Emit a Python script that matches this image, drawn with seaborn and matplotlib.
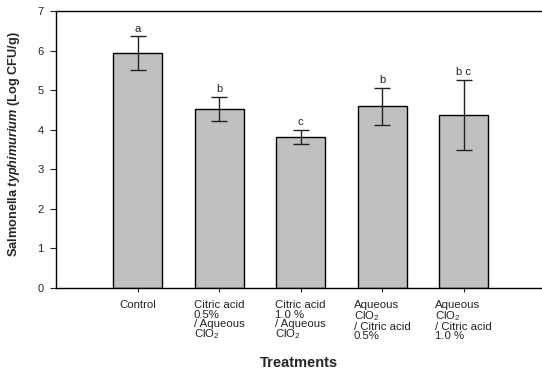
import matplotlib
matplotlib.use("Agg")
import matplotlib.pyplot as plt
import seaborn as sns
import numpy as np
import pandas as pd

# Treatment groups and Salmonella counts (log CFU/g)
treatments = [
    "Control",
    "Citric acid\n0.5%\n/ Aqueous\nClO$_2$",
    "Citric acid\n1.0 %\n/ Aqueous\nClO$_2$",
    "Aqueous\nClO$_2$\n/ Citric acid\n0.5%",
    "Aqueous\nClO$_2$\n/ Citric acid\n1.0 %",
]
means = [5.94, 4.52, 3.82, 4.59, 4.38]
errors = [0.42, 0.31, 0.18, 0.47, 0.88]
letters = ["a", "b", "c", "b", "b c"]
yticks = [0, 1, 2, 3, 4, 5, 6, 7]

sns.set_style("white")
plt.rcParams["font.family"] = ["Liberation Sans", "DejaVu Sans"]
plt.rcParams["mathtext.fontset"] = "custom"
plt.rcParams["mathtext.rm"] = "Liberation Sans"
plt.rcParams["mathtext.it"] = "Liberation Sans:italic:bold"
plt.rcParams["mathtext.bf"] = "Liberation Sans:bold"

df = pd.DataFrame({"treatment": [f"t{i}" for i in range(len(treatments))], "mean": means})

fig = plt.figure(figsize=(5.42, 3.71), dpi=100)
ax = fig.add_axes([56 / 542, 1 - 288 / 371, (542 - 56) / 542, 277 / 371])

sns.barplot(data=df, x="treatment", y="mean", color="#c0c0c0", width=0.6,
            edgecolor="black", linewidth=1.0, saturation=1, errorbar=None, ax=ax)

pos = np.arange(len(means))
ax.errorbar(pos, means, yerr=errors, fmt="none", ecolor="#222222",
            elinewidth=1.0, capsize=5.5, capthick=1.0, zorder=5)

for x, m, e, lab in zip(pos, means, errors, letters):
    ax.text(x, m + e + 0.07, lab, ha="center", va="bottom", fontsize=8,
            color="#222222")

ax.set_ylim(0, 7)
ax.set_xlim(-1.0, 4.96)
ax.set_yticks(yticks)
ax.set_yticklabels([str(t) for t in yticks], fontsize=8, color="#222222")
ax.set_xticks(pos)
ax.set_xticklabels(treatments, fontsize=8.2, linespacing=0.88,
                   multialignment="left", color="#222222")
ax.tick_params(axis="y", direction="out", length=4, width=0.8, pad=5, left=True)
ax.tick_params(axis="x", direction="out", length=3, width=0.8, pad=6, bottom=True)

for side in ["left", "bottom", "top"]:
    ax.spines[side].set_visible(True)
    ax.spines[side].set_color("black")
    ax.spines[side].set_linewidth(1.0)
ax.spines["right"].set_visible(False)

ax.set_xlabel("Treatments", fontsize=10.5, fontweight="bold", labelpad=11)
ax.set_ylabel(r"Salmonella $\mathit{typhimurium}$ (Log CFU/g)", fontsize=9.2,
              fontweight="bold")
ax.yaxis.set_label_coords(-34 / 486, 0.52)

fig.savefig("out.png", dpi=100)
